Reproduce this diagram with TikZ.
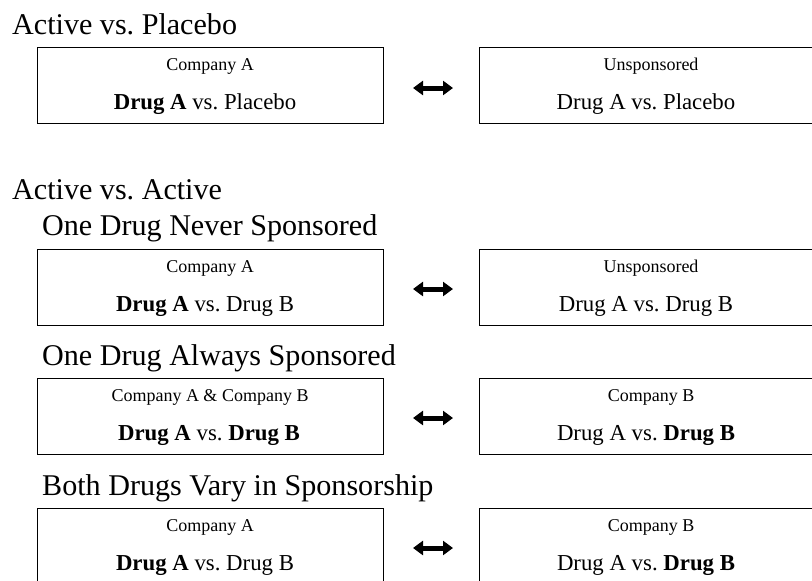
\documentclass[tikz,border=0pt]{standalone}
\usepackage{fontspec}
\setmainfont{Liberation Serif}
\usetikzlibrary{arrows.meta}
\frenchspacing
\begin{document}
\begin{tikzpicture}[x=1pt,y=-1pt,
  heading/.style={anchor=base west,inner sep=0pt,font=\fontsize{30.1pt}{36pt}\selectfont},
  cbox/.style={draw=black,line width=1.3pt,minimum width=346pt,minimum height=76pt,anchor=north west,inner sep=0pt},
  small/.style={anchor=base,inner sep=0pt,font=\fontsize{18pt}{21pt}\selectfont},
  big/.style={anchor=base,inner sep=0pt,font=\fontsize{22.8pt}{27pt}\selectfont},
  dbl/.style={line width=5pt,{Triangle[length=10pt,width=14pt]}-{Triangle[length=10pt,width=14pt]}}
]
\useasboundingbox (0,0) rectangle (812,581);
\clip (0,0) rectangle (812,581);

% headings
\node[heading] (h1) at (12,34) {Active vs. Placebo};
\node[heading] (h2) at (12,199) {Active vs. Active};
\node[heading] (h3) at (42,235) {One Drug Never Sponsored};
\node[heading] (h4) at (42,365) {One Drug Always Sponsored};
\node[heading] (h5) at (42,495) {Both Drugs Vary in Sponsorship};

% row 1
\node[cbox] (b1l) at (37,47) {};
\node[cbox] (b1r) at (479,47) {};
\node[small] (c1l) at (210,70.5) {Company A};
\node[big] (d1l) at (205,109) {\textbf{Drug A} vs. Placebo};
\node[small] (c1r) at (651,70.5) {Unsponsored};
\node[big] (d1r) at (646,109) {Drug A vs. Placebo};
\coordinate (a1l) at (413,88);
\coordinate (a1r) at (453,88);
\draw[dbl] (a1l) -- (a1r);

% row 2
\node[cbox] (b2l) at (37,249) {};
\node[cbox] (b2r) at (479,249) {};
\node[small] (c2l) at (210,272) {Company A};
\node[big] (d2l) at (205,311) {\textbf{Drug A} vs. Drug B};
\node[small] (c2r) at (651,272) {Unsponsored};
\node[big] (d2r) at (646,311) {Drug A vs. Drug B};
\coordinate (a2l) at (413,289);
\coordinate (a2r) at (453,289);
\draw[dbl] (a2l) -- (a2r);

% row 3
\node[cbox] (b3l) at (37,378) {};
\node[cbox] (b3r) at (479,378) {};
\node[small] (c3l) at (210,401) {Company A \& Company B};
\node[big] (d3l) at (209,440) {\textbf{Drug A} vs. \textbf{Drug B}};
\node[small] (c3r) at (651,401) {Company B};
\node[big] (d3r) at (646,440) {Drug A vs. \textbf{Drug B}};
\coordinate (a3l) at (413,418);
\coordinate (a3r) at (453,418);
\draw[dbl] (a3l) -- (a3r);

% row 4
\node[cbox] (b4l) at (37,508) {};
\node[cbox] (b4r) at (479,508) {};
\node[small] (c4l) at (210,531) {Company A};
\node[big] (d4l) at (205,570) {\textbf{Drug A} vs. Drug B};
\node[small] (c4r) at (651,531) {Company B};
\node[big] (d4r) at (646,570) {Drug A vs. \textbf{Drug B}};
\coordinate (a4l) at (413,548);
\coordinate (a4r) at (453,548);
\draw[dbl] (a4l) -- (a4r);
\end{tikzpicture}
\end{document}
